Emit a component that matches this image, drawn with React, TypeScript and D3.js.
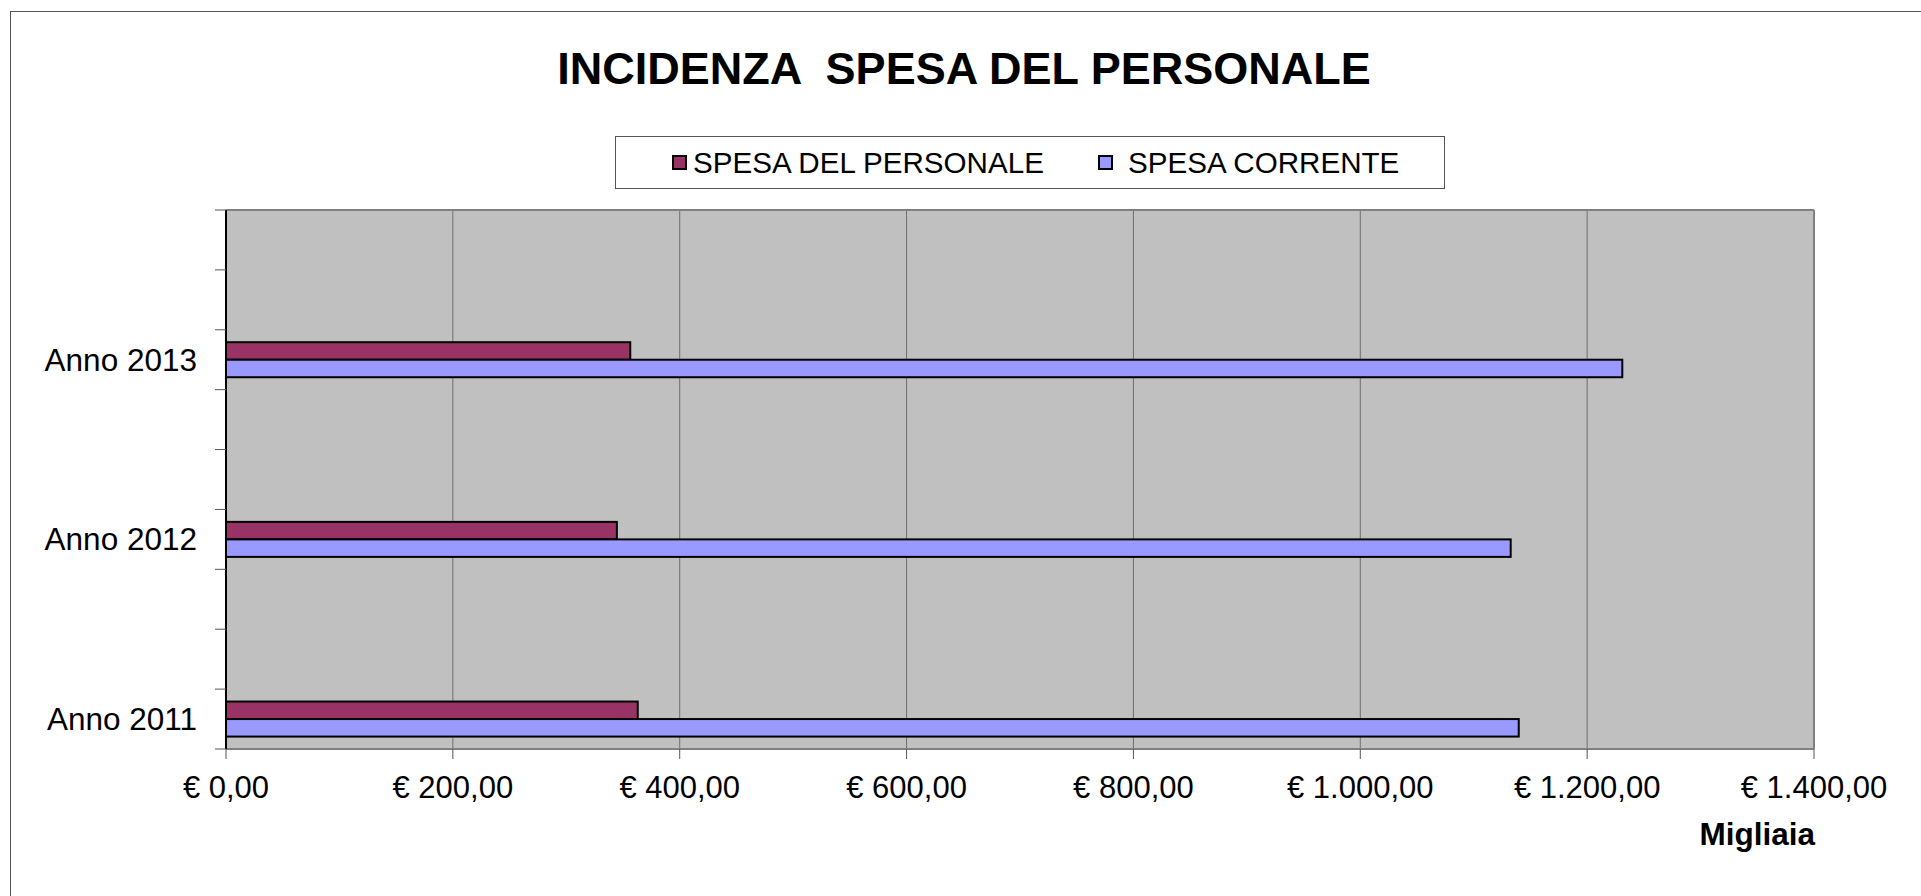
import React from 'react';
import * as d3 from 'd3';

// values in thousands of euro
const categories = ['Anno 2011', 'Anno 2012', 'Anno 2013'];
const spesaPersonale = [363, 344.6, 356.4];
const spesaCorrente = [1139.7, 1132.6, 1231];
const seriesNames = ['SPESA DEL PERSONALE', 'SPESA CORRENTE'];
const xTicks = [0, 200, 400, 600, 800, 1000, 1200, 1400];

const W = 1921;
const H = 896;
const plot = { left: 226, right: 1814, top: 210, bottom: 749 };
const colors = ['#993366', '#9999FF'];
const font = 'Liberation Sans, Arial, sans-serif';

const it = d3.formatLocale({ decimal: ',', thousands: '.', grouping: [3], currency: ['€ ', ''] });
const fmt = it.format('$,.2f');

const App: React.FC = () => {
  const x = d3.scaleLinear().domain([0, 1400]).range([plot.left, plot.right]);
  // 9 slots on the category axis, a label every third one
  const slots = d3.scaleBand<number>().domain(d3.range(9)).range([plot.bottom, plot.top]);
  const inner = d3.scaleBand<number>().domain([0, 1]).range([0, slots.bandwidth()]).paddingOuter(0.71);
  const slotBounds = d3.range(10).map((i) => plot.bottom - i * slots.step());

  const rows = categories.map((c, i) => ({ cat: c, slot: i * 3, vals: [spesaPersonale[i], spesaCorrente[i]] }));

  return (
    <svg width={W} height={H} style={{ position: 'absolute', left: 0, top: 0, background: '#fff' }} fontFamily={font}>
      <rect x={10.5} y={11.5} width={W} height={H} fill="none" stroke="#555" strokeWidth={1} />

      <text x={964} y={84} textAnchor="middle" fontSize={45} fontWeight="bold" xmlSpace="preserve">
        INCIDENZA  SPESA DEL PERSONALE
      </text>

      {/* legend */}
      <rect x={615.5} y={136.5} width={829} height={52} fill="#fff" stroke="#555" strokeWidth={1} />
      {[673, 1099].map((lx, i) => (
        <g key={i}>
          <rect x={lx} y={156} width={13} height={13} fill={colors[i]} stroke="#000" strokeWidth={2} />
          <text x={i === 0 ? 693 : 1128} y={173} fontSize={29.6}>{seriesNames[i]}</text>
        </g>
      ))}

      {/* plot area */}
      <rect x={plot.left} y={plot.top} width={plot.right - plot.left} height={plot.bottom - plot.top} fill="#C0C0C0" />
      {xTicks.slice(1, -1).map((t) => (
        <line key={t} x1={x(t)} x2={x(t)} y1={plot.top} y2={plot.bottom} stroke="#6e6e6e" strokeWidth={1} />
      ))}
      <line x1={plot.left} x2={plot.right} y1={plot.top} y2={plot.top} stroke="#808080" strokeWidth={2} />
      <line x1={plot.right} x2={plot.right} y1={plot.top} y2={plot.bottom} stroke="#808080" strokeWidth={2} />
      <line x1={plot.left} x2={plot.right} y1={plot.bottom} y2={plot.bottom} stroke="#808080" strokeWidth={2} />

      {/* bars */}
      {rows.map((r) =>
        r.vals.map((v, j) => (
          <rect
            key={r.cat + j}
            x={x(0)}
            y={(slots(r.slot) as number) + (inner(j) as number)}
            width={x(v) - x(0)}
            height={inner.bandwidth()}
            fill={colors[j]}
            stroke="#000"
            strokeWidth={2}
          />
        ))
      )}

      {/* category axis */}
      <line x1={plot.left} x2={plot.left} y1={plot.top} y2={plot.bottom} stroke="#000" strokeWidth={2} />
      {slotBounds.map((y, i) => (
        <line key={i} x1={plot.left - 11} x2={plot.left} y1={y} y2={y} stroke="#555" strokeWidth={1} />
      ))}
      {rows.map((r) => (
        <text
          key={r.cat}
          x={197}
          y={(slots(r.slot) as number) + slots.bandwidth() / 2 + 11}
          textAnchor="end"
          fontSize={31.5}
        >
          {r.cat}
        </text>
      ))}

      {/* value axis */}
      {xTicks.map((t) => (
        <g key={t}>
          <line x1={x(t)} x2={x(t)} y1={plot.bottom} y2={plot.bottom + 10} stroke="#555" strokeWidth={1} />
          <text x={x(t)} y={798} textAnchor="middle" fontSize={31}>{fmt(t)}</text>
        </g>
      ))}
      <text x={1815} y={845} textAnchor="end" fontSize={31.5} fontWeight="bold">Migliaia</text>
    </svg>
  );
};

export default App;
